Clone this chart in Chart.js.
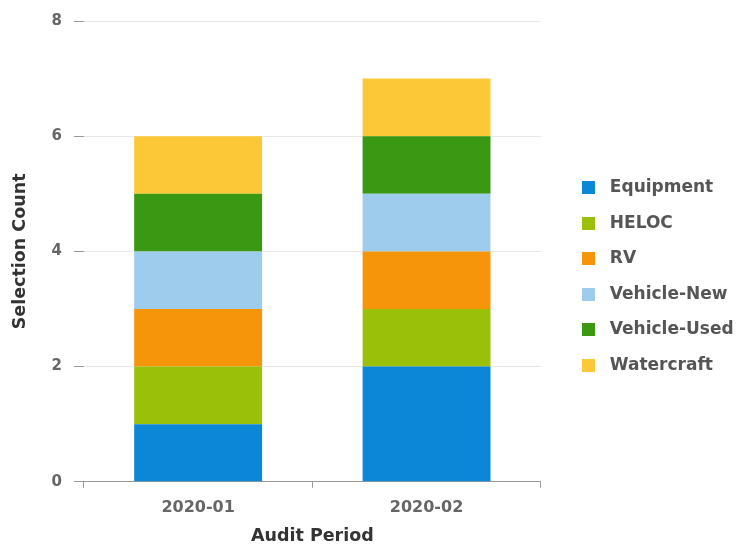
<!DOCTYPE html>
<html lang="en">
<head>
  <meta charset="UTF-8">
  <title>Selection Count by Audit Period</title>
  <script src="https://cdn.jsdelivr.net/npm/chart.js"></script>
  <style>
    html, body {
      margin: 0;
      padding: 0;
      background: #fff;
    }
    #wrap {
      width: 746px;
      height: 544px;
    }
  </style>
</head>
<body>
  <div id="wrap"><canvas id="chart"></canvas></div>

  <script>
    // data
    const periods = ['2020-01', '2020-02'];
    const equipment = [1, 2];
    const heloc = [1, 1];
    const rv = [1, 1];
    const vehicleNew = [1, 1];
    const vehicleUsed = [1, 1];
    const watercraft = [1, 1];
    const yTicks = [0, 2, 4, 6, 8];

    const series = [
      { label: 'Equipment', data: equipment, color: '#0c86d6' },
      { label: 'HELOC', data: heloc, color: '#9bc00a' },
      { label: 'RV', data: rv, color: '#f6940a' },
      { label: 'Vehicle-New', data: vehicleNew, color: '#9ecced' },
      { label: 'Vehicle-Used', data: vehicleUsed, color: '#3a9812' },
      { label: 'Watercraft', data: watercraft, color: '#fcc838' }
    ];

    Chart.defaults.font.family = "'DejaVu Sans', sans-serif";

    // small square used as legend marker, leaves a wider gap before the text
    function swatch(color) {
      const c = document.createElement('canvas');
      c.width = 13;
      c.height = 13;
      const g = c.getContext('2d');
      g.fillStyle = color;
      g.fillRect(0, 0, 13, 13);
      return c;
    }

    // nudge the legend box to where the reference has it
    const legendShift = {
      id: 'legendShift',
      afterLayout(chart) {
        const lg = chart.legend;
        lg.left += 16;
        lg.right += 16;
        lg.top -= 6;
        lg.bottom -= 6;
      }
    };

    const ctx = document.getElementById('chart').getContext('2d');
    const chart = new Chart(ctx, {
      type: 'bar',
      data: {
        labels: periods,
        datasets: series.map(s => ({
          label: s.label,
          data: s.data,
          backgroundColor: s.color,
          borderWidth: 0,
          barPercentage: 0.56,
          categoryPercentage: 1.0
        }))
      },
      options: {
        responsive: true,
        maintainAspectRatio: false,
        animation: false,
        layout: {
          padding: { top: 21, right: 25, bottom: 0, left: 0 }
        },
        plugins: {
          tooltip: { enabled: false },
          legend: {
            position: 'right',
            labels: {
              color: '#555',
              font: { size: 17, weight: 'bold' },
              usePointStyle: true,
              pointStyleWidth: 26,
              boxHeight: 13,
              padding: 18.6,
              generateLabels(chart) {
                const items = Chart.defaults.plugins.legend.labels.generateLabels(chart);
                items.forEach(it => { it.pointStyle = swatch(it.fillStyle); });
                return items;
              }
            }
          }
        },
        scales: {
          x: {
            stacked: true,
            grid: {
              display: true,
              drawOnChartArea: false,
              tickLength: 6,
              tickColor: '#999'
            },
            border: { display: true, color: '#999' },
            ticks: {
              color: '#666',
              font: { size: 16, weight: 'bold' },
              padding: 10
            },
            title: {
              display: true,
              text: 'Audit Period',
              color: '#333',
              font: { size: 17.5, weight: 'bold' },
              padding: { top: -1, bottom: -3 }
            }
          },
          y: {
            stacked: true,
            min: 0,
            max: 8,
            afterBuildTicks(scale) {
              scale.ticks = yTicks.map(v => ({ value: v }));
            },
            grid: {
              color: '#e8e8e8',
              tickColor: '#999',
              tickLength: 10
            },
            border: { display: false },
            ticks: {
              color: '#666',
              font: { size: 15, weight: 'bold' },
              padding: 12
            },
            title: {
              display: true,
              text: 'Selection Count',
              color: '#333',
              font: { size: 17.5, weight: 'bold' },
              padding: { top: 10, bottom: 8.5 }
            }
          }
        }
      },
      plugins: [legendShift]
    });
  </script>
</body>
</html>
